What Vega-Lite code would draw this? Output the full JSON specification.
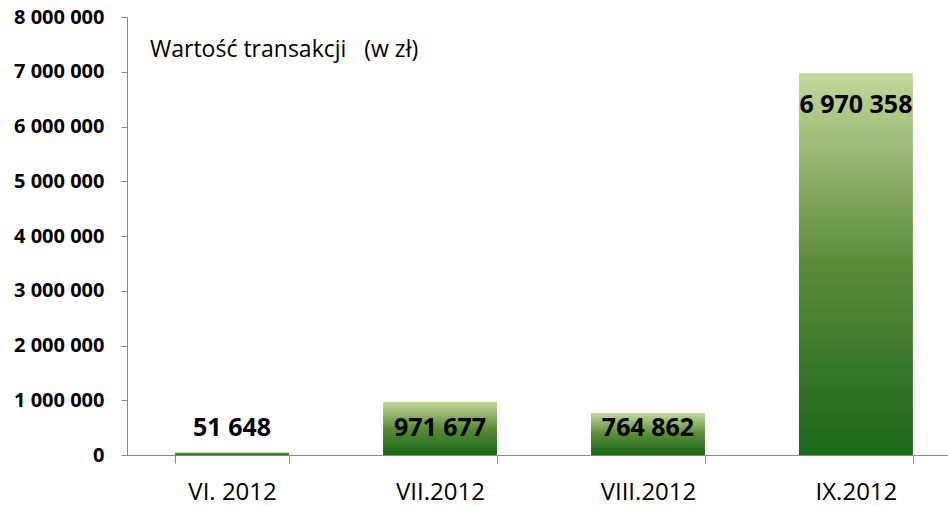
{
  "$schema": "https://vega.github.io/schema/vega-lite/v6.json",
  "autosize": "none",
  "padding": {"left": 127, "top": 17, "right": 0, "bottom": 51},
  "width": 821,
  "height": 438,
  "background": "white",
  "title": {
    "text": "Wartość transakcji\u00a0\u00a0\u00a0(w zł)",
    "anchor": "start",
    "frame": "group",
    "orient": "top",
    "baseline": "alphabetic",
    "offset": 0,
    "dx": 23,
    "dy": 73,
    "font": "Open Sans",
    "fontSize": 23,
    "fontWeight": "normal",
    "color": "#000000"
  },
  "data": {
    "values": [
      {"month": "VI. 2012", "value": 51648},
      {"month": "VII.2012", "value": 971677},
      {"month": "VIII.2012", "value": 764862},
      {"month": "IX.2012", "value": 6970358}
    ]
  },
  "encoding": {
    "x": {
      "field": "month",
      "type": "nominal",
      "sort": null,
      "scale": {"paddingInner": 0.452, "paddingOuter": 0.2, "align": 0.578},
      "axis": {
        "title": null,
        "labelAngle": 0,
        "tickBand": "extent",
        "tickSize": 8,
        "labelPadding": 17,
        "labelFont": "Open Sans",
        "labelFontSize": 24,
        "labelFontWeight": "normal"
      }
    },
    "y": {
      "field": "value",
      "type": "quantitative",
      "scale": {"domain": [0, 8000000], "nice": false},
      "axis": {
        "title": null,
        "values": [0, 1000000, 2000000, 3000000, 4000000, 5000000, 6000000, 7000000, 8000000],
        "labelOverlap": false,
        "labelBound": false,
        "format": ",d",
        "tickSize": 6,
        "labelPadding": 17,
        "labelFont": "Open Sans",
        "labelFontSize": 20,
        "labelFontWeight": "bold"
      }
    }
  },
  "layer": [
    {
      "mark": {
        "type": "bar",
        "fill": {
          "gradient": "linear",
          "x1": 0, "y1": 0, "x2": 0, "y2": 1,
          "stops": [
            {"offset": 0, "color": "#c4d89c"},
            {"offset": 0.5, "color": "#5a8b39"},
            {"offset": 1, "color": "#1a6719"}
          ]
        }
      }
    },
    {
      "transform": [{"filter": "datum.value >= 1500000"}],
      "mark": {
        "type": "text",
        "baseline": "middle",
        "dy": 32,
        "font": "Open Sans",
        "fontSize": 25,
        "fontWeight": "bold",
        "color": "#000000"
      },
      "encoding": {
        "text": {"field": "value", "type": "quantitative", "format": ",d"}
      }
    },
    {
      "transform": [{"filter": "datum.value < 1500000"}],
      "mark": {
        "type": "text",
        "baseline": "middle",
        "dy": -27,
        "font": "Open Sans",
        "fontSize": 25,
        "fontWeight": "bold",
        "color": "#000000"
      },
      "encoding": {
        "y": {"datum": 0},
        "text": {"field": "value", "type": "quantitative", "format": ",d"}
      }
    }
  ],
  "config": {
    "locale": {
      "number": {"decimal": ",", "thousands": "\u00a0", "grouping": [3], "currency": ["", " zł"]}
    },
    "view": {"stroke": null},
    "axis": {
      "grid": false,
      "domainColor": "#888888",
      "tickColor": "#888888",
      "labelColor": "#000000"
    }
  }
}
